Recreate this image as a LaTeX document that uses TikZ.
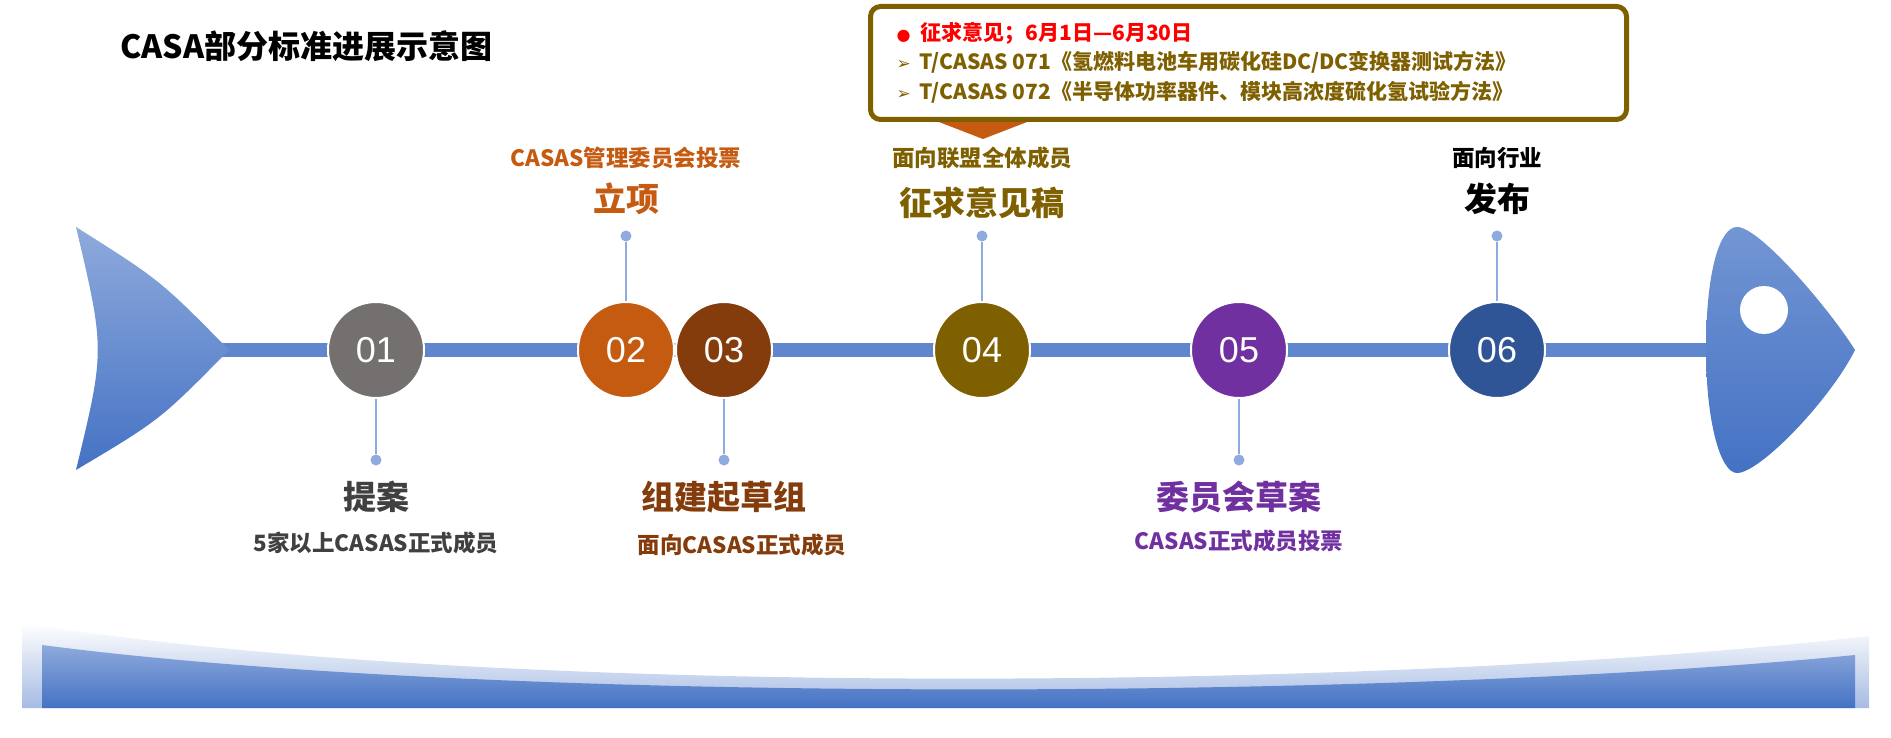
\documentclass[tikz,border=0pt]{standalone}
\usepackage{fontspec}
\setmainfont{Noto Sans CJK SC}
\newfontfamily\symfont{DejaVu Sans}
\newfontfamily\numfont{Liberation Sans}
\usetikzlibrary{calc}
\definecolor{cgray}{HTML}{757070}
\definecolor{corange}{HTML}{C55A11}
\definecolor{cbrown}{HTML}{843C0C}
\definecolor{colive}{HTML}{7F6000}
\definecolor{cpurple}{HTML}{7030A0}
\definecolor{cnavy}{HTML}{2F5597}
\definecolor{cblue}{HTML}{4472C4}
\definecolor{clblue}{HTML}{8FAADC}
\definecolor{cdark}{HTML}{404040}
\begin{document}
\begin{tikzpicture}[x=1pt,y=-1pt,
  stage/.style={circle,draw=white,line width=2pt,minimum size=96pt,inner sep=0pt,text=white,font=\numfont\fontsize{36}{38}\selectfont},
  link/.style={draw=clblue,line width=1.2pt},
  dot/.style={circle,fill=clblue,minimum size=11pt,inner sep=0pt},
  big/.style={font=\bfseries\fontsize{33}{36}\selectfont},
  small/.style={font=\bfseries\fontsize{22.5}{26}\selectfont}]
\useasboundingbox (0,0) rectangle (1891,738);
% bottom wave
\shade[top color=white,bottom color=clblue!80] (22,623) .. controls (500,700) and (1400,690) .. (1869,636) -- (1869,708) -- (22,708) -- cycle;
\shade[top color=clblue,bottom color=cblue] (42,645) .. controls (500,705) and (1400,700) .. (1855,655) -- (1855,708) -- (42,708) -- cycle;
% spine
\fill[cblue!85] (200,343) rectangle (1720,357);
% tail
\shade[top color=clblue,bottom color=cblue] (76,227) .. controls (160,280) .. (229,350) .. controls (160,420) .. (76,470) .. controls (105,350) .. (76,227) -- cycle;
% head
\shade[top color=cblue!75,bottom color=cblue] (1706,350) .. controls (1706,270) and (1720,227) .. (1737,227) .. controls (1760,227) and (1830,310) .. (1855,350) .. controls (1830,400) and (1760,473) .. (1737,473) .. controls (1720,473) and (1706,420) .. (1706,350) -- cycle;
\node[circle,fill=white,minimum size=48pt,inner sep=0pt] (eye) at (1764,310) {};
% title
\node[anchor=west,font=\bfseries\fontsize{32}{36}\selectfont] (title) at (117,46) {CASA部分标准进展示意图};
% stages
\node[stage,fill=cgray] (s1) at (376,350) {01};
\node[stage,fill=corange] (s2) at (626,350) {02};
\node[stage,fill=cbrown] (s3) at (724,350) {03};
\node[stage,fill=colive] (s4) at (982,350) {04};
\node[stage,fill=cpurple] (s5) at (1239,350) {05};
\node[stage,fill=cnavy] (s6) at (1497,350) {06};
% dots and links
\node[dot] (d1) at (376,460) {};
\node[dot] (d2) at (626,236) {};
\node[dot] (d3) at (724,460) {};
\node[dot] (d4) at (982,236) {};
\node[dot] (d5) at (1239,460) {};
\node[dot] (d6) at (1497,236) {};
\draw[link] (s1) -- (d1); \draw[link] (s2) -- (d2); \draw[link] (s3) -- (d3);
\draw[link] (s4) -- (d4); \draw[link] (s5) -- (d5); \draw[link] (s6) -- (d6);
% labels above
\node[small,text=corange] (a2) at (626,158) {CASAS管理委员会投票};
\node[big,text=corange] (b2) at (626,199) {立项};
\node[small,text=colive] (a4) at (982,158) {面向联盟全体成员};
\node[big,text=colive] (b4) at (982,203) {征求意见稿};
\node[small] (a6) at (1497,158) {面向行业};
\node[big] (b6) at (1497,199) {发布};
% labels below
\node[big,text=cdark] (b1) at (376,497) {提案};
\node[small,text=cdark] (c1) at (376,543) {5家以上CASAS正式成员};
\node[big,text=cbrown] (b3) at (724,497) {组建起草组};
\node[small,text=cbrown] (c3) at (742,545) {面向CASAS正式成员};
\node[big,text=cpurple] (b5) at (1239,497) {委员会草案};
\node[small,text=cpurple] (c5) at (1239,541) {CASAS正式成员投票};
% callout
\fill[corange] (926,117) -- (1040,117) -- (983,139) -- cycle;
\node[draw=colive,line width=5pt,rounded corners=10pt,fill=white,minimum width=756pt,minimum height=113pt,anchor=north west] (box) at (868,4) {};
\node[anchor=west,text=red,font=\fontsize{21}{24}\selectfont] (l0) at (893,33) {{\symfont\fontsize{16}{18}\selectfont ●}\hspace{10pt}\bfseries 征求意见；6月1日—6月30日};
\node[anchor=west,text=colive,font=\bfseries\fontsize{21}{24}\selectfont] (l1) at (893,62) {{\symfont\fontsize{17}{18}\selectfont ➢}\hspace{9pt}T/CASAS 071《氢燃料电池车用碳化硅DC/DC变换器测试方法》};
\node[anchor=west,text=colive,font=\bfseries\fontsize{21}{24}\selectfont] (l2) at (893,92) {{\symfont\fontsize{17}{18}\selectfont ➢}\hspace{9pt}T/CASAS 072《半导体功率器件、模块高浓度硫化氢试验方法》};
\end{tikzpicture}
\end{document}
